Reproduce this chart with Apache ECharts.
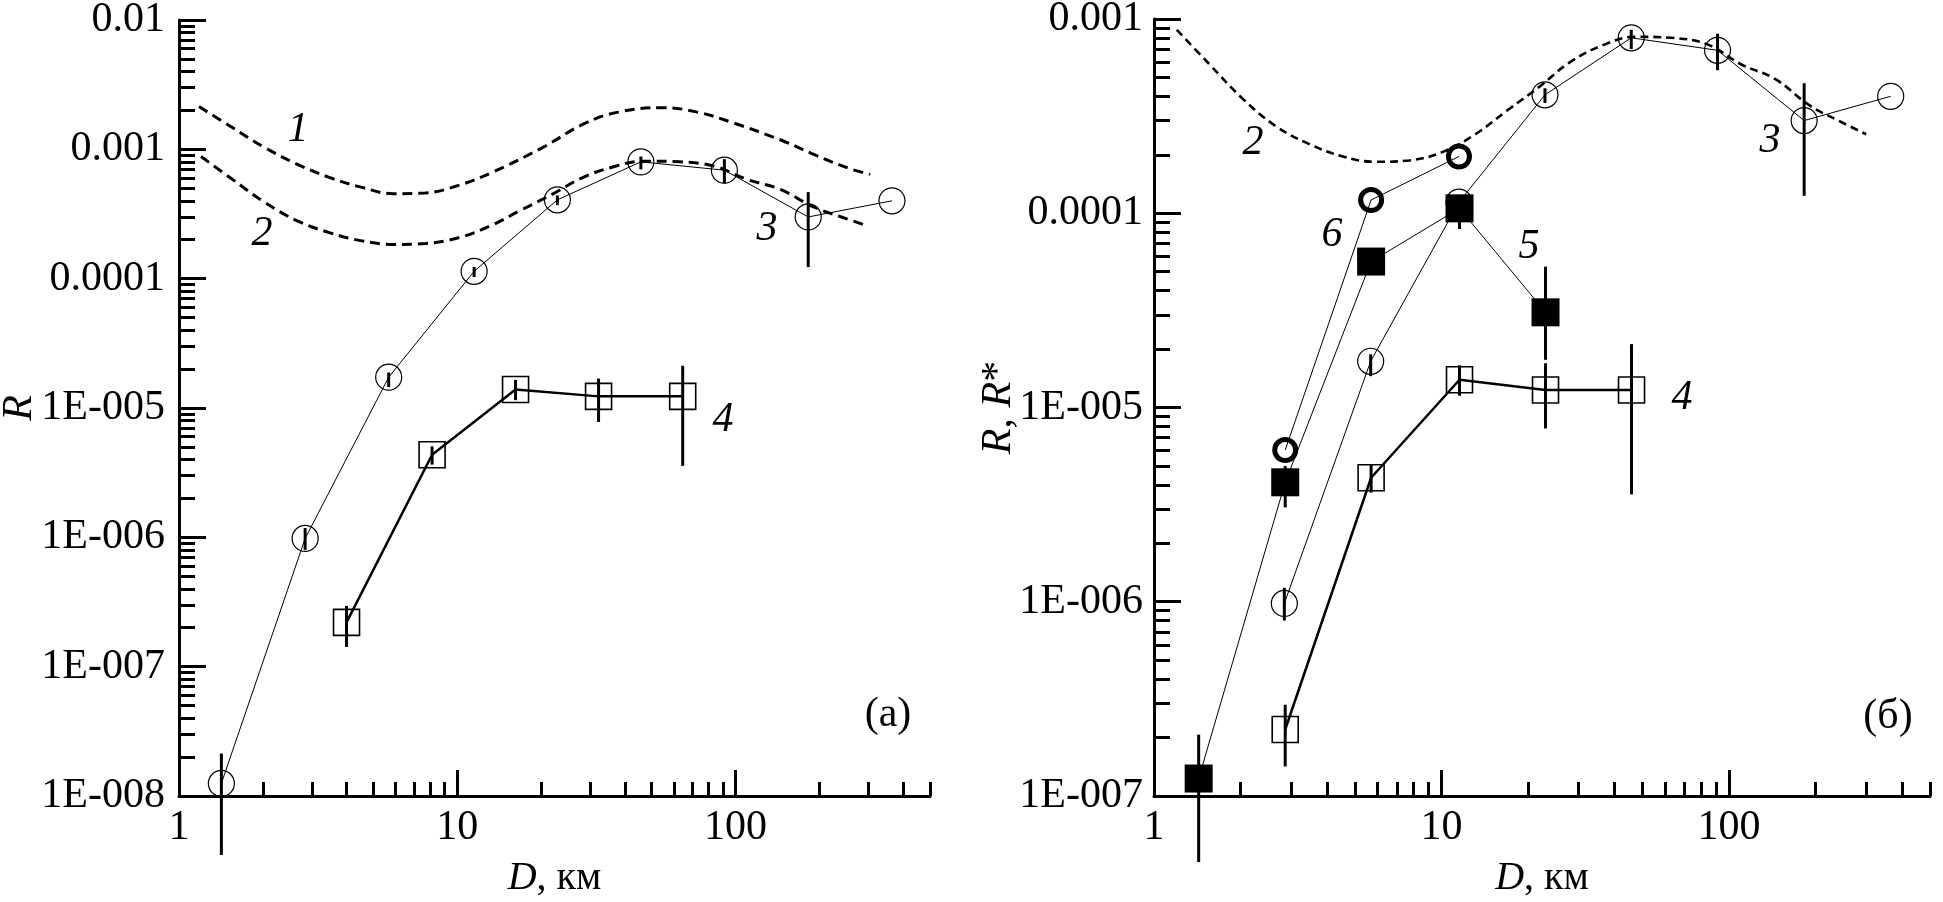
<!DOCTYPE html>
<html><head><meta charset="utf-8">
<script src="https://cdn.jsdelivr.net/npm/echarts@6/dist/echarts.min.js"></script>
<style>html,body{margin:0;padding:0;background:#fff}#c{width:1943px;height:902px}</style>
</head><body><div id="c"></div>
<script>
// ---------- tick values / labels ----------
const xMajor = [1, 10, 100];
const xMajorLabels = ['1', '10', '100'];
const xMinor = [2,3,4,5,6,7,8,9,20,30,40,50,60,70,80,90,200,300,400,500];
const yMajorA = [1e-8, 1e-7, 1e-6, 1e-5, 1e-4, 1e-3, 1e-2];
const yLabelsA = ['1E-008', '1E-007', '1E-006', '1E-005', '0.0001', '0.001', '0.01'];
const yMajorB = [1e-7, 1e-6, 1e-5, 1e-4, 1e-3];
const yLabelsB = ['1E-007', '1E-006', '1E-005', '0.0001', '0.001'];
const minorMult = [2,3,4,5,6,7,8,9];

// ---------- data ----------
// curve 1 (dashed, panel a)
const curve1X = [1.18, 1.55, 2.02, 2.64, 3.45, 4.51, 5.89, 7.69, 10.1, 13.4, 20.4, 28.6, 37.9, 54.8, 72.9, 96.6, 147, 195, 258, 305];
const curve1Y = [2.14e-3, 1.48e-3, 1.04e-3, 7.73e-4, 6.09e-4, 5.10e-4, 4.54e-4, 4.6e-4, 5.26e-4, 6.66e-4, 1.04e-3, 1.58e-3, 1.94e-3, 2.10e-3, 1.94e-3, 1.62e-3, 1.17e-3, 8.97e-4, 7.08e-4, 6.4e-4];
// curve 2 (dashed, both panels)
const curve2X = [1.2, 1.55, 2.03, 2.66, 3.47, 4.54, 5.9, 7.7, 10.1, 13.1, 17, 22, 28, 37, 47, 63, 84, 110, 145, 190, 240, 300];
const curve2Y = [8.8e-4, 5.9e-4, 3.9e-4, 2.8e-4, 2.27e-4, 1.96e-4, 1.84e-4, 1.87e-4, 2.07e-4, 2.55e-4, 3.4e-4, 4.5e-4, 6.0e-4, 7.4e-4, 8.1e-4, 8.0e-4, 7.4e-4, 5.85e-4, 4.9e-4, 3.6e-4, 3.0e-4, 2.55e-4];
// series 3 (open circles)
const s3X  = [1.42, 2.84, 5.67, 11.5, 22.9, 45.7, 91.2, 182.5, 365];
const s3Y  = [1.25e-8, 9.8e-7, 1.73e-5, 1.14e-4, 4.07e-4, 8.0e-4, 6.9e-4, 3.0e-4, 4.0e-4];
const s3Lo = [3.5e-9, 8.0e-7, 1.45e-5, 1.03e-4, 3.7e-4, 7.0e-4, 5.45e-4, 1.23e-4, null];
const s3Hi = [2.13e-8, 1.18e-6, 1.88e-5, 1.23e-4, 4.4e-4, 8.8e-4, 8.4e-4, 4.67e-4, null];
// series 4 (open squares)
const s4XA = [4.0, 8.12, 16.2, 32.2, 64.6];
const s4XB = [2.86, 5.69, 11.55, 23.0, 45.8];
const s4Y  = [2.2e-7, 4.35e-6, 1.39e-5, 1.23e-5, 1.23e-5];
const s4Lo = [1.42e-7, 3.65e-6, 1.15e-5, 7.8e-6, 3.57e-6];
const s4Hi = [2.95e-7, 5.05e-6, 1.65e-5, 1.69e-5, 2.12e-5];
// series 5 (filled squares, panel б)
const s5X  = [1.43, 2.86, 5.69, 11.55, 23.0];
const s5Y  = [1.23e-7, 4.12e-6, 5.64e-5, 1.06e-4, 3.09e-5];
const s5Lo = [4.57e-8, 3.06e-6, null, 8.3e-5, 1.76e-5];
const s5Hi = [2.07e-7, 5.0e-6, null, 1.2e-4, 5.31e-5];
// series 6 (thick rings, panel б)
const s6X = [2.86, 5.69, 11.5];
const s6Y = [6.04e-6, 1.17e-4, 1.96e-4];

// ---------- helpers ----------
const FONT = 'Liberation Serif';
function minorOf(majors) {
  const out = [];
  majors.slice(0, -1).forEach(m => minorMult.forEach(k => out.push(m * k)));
  return out;
}
function pairs(xs, ys) { return xs.map((x, i) => [x, ys[i]]); }
function lbl(majors, labels) {
  return v => { const i = majors.findIndex(m => Math.abs(m - v) / m < 1e-6); return i >= 0 ? labels[i] : ''; };
}
function xAxes(grid, max) {
  return [{
    type: 'log', logBase: 10, gridIndex: grid, min: 1, max: max, position: 'bottom',
    axisLine: { show: true, lineStyle: { color: '#000', width: 3 } },
    axisTick: { show: true, inside: true, length: 26, lineStyle: { color: '#000', width: 3 }, customValues: xMajor },
    axisLabel: { show: true, customValues: xMajor, formatter: lbl(xMajor, xMajorLabels), margin: 11,
      fontFamily: FONT, fontSize: 42, color: '#000', hideOverlap: false },
    minorTick: { show: false }, splitLine: { show: false },
    name: '{i|D}, км', nameLocation: 'middle', nameGap: 62, nameMoveOverlap: false,
    nameTextStyle: { fontFamily: FONT, fontSize: 40, color: '#000',
      rich: { i: { fontFamily: FONT, fontStyle: 'italic', fontSize: 40, color: '#000' } } }
  }, {
    type: 'log', logBase: 10, gridIndex: grid, min: 1, max: max, position: 'bottom',
    axisLine: { show: false },
    axisTick: { show: true, inside: true, length: 14, lineStyle: { color: '#000', width: 3 }, customValues: xMinor },
    axisLabel: { show: false }, splitLine: { show: false }
  }];
}
function yAxes(grid, min, max, majors, labels, name, gap, margin) {
  return [{
    type: 'log', logBase: 10, gridIndex: grid, min: min, max: max, position: 'left',
    axisLine: { show: true, lineStyle: { color: '#000', width: 3 } },
    axisTick: { show: true, inside: true, length: 27, lineStyle: { color: '#000', width: 3 }, customValues: majors },
    axisLabel: { show: true, customValues: majors, formatter: lbl(majors, labels), margin: margin,
      fontFamily: FONT, fontSize: 42, color: '#000', hideOverlap: false },
    splitLine: { show: false },
    name: name, nameLocation: 'middle', nameGap: gap, nameRotate: 90, nameMoveOverlap: false,
    nameTextStyle: { fontFamily: FONT, fontSize: 42, color: '#000',
      rich: { i: { fontFamily: FONT, fontStyle: 'italic', fontSize: 42, color: '#000' } } }
  }, {
    type: 'log', logBase: 10, gridIndex: grid, min: min, max: max, position: 'left',
    axisLine: { show: false },
    axisTick: { show: true, inside: true, length: 16, lineStyle: { color: '#000', width: 3 }, customValues: minorOf(majors) },
    axisLabel: { show: false }, splitLine: { show: false }
  }];
}
function dashed(xi, yi, xs, ys, w, dash) {
  return { type: 'line', xAxisIndex: xi, yAxisIndex: yi, data: pairs(xs, ys), smooth: 0.4,
    showSymbol: false, symbol: 'none', silent: true, z: 3,
    lineStyle: { color: '#000', width: w, type: dash, cap: 'butt' } };
}
function marks(xi, yi, xs, ys, symbol, size, fill, bw, lw) {
  return { type: 'line', xAxisIndex: xi, yAxisIndex: yi, data: pairs(xs, ys), symbol: symbol, symbolSize: size,
    showSymbol: true, showAllSymbol: true, clip: false, z: 4,
    lineStyle: { color: '#000', width: lw },
    itemStyle: { color: fill, borderColor: '#000', borderWidth: bw } };
}
function errs(xi, yi, xs, lo, hi) {
  const d = [];
  xs.forEach((x, i) => { if (lo[i] != null) d.push([x, lo[i], hi[i]]); });
  return { type: 'custom', xAxisIndex: xi, yAxisIndex: yi, clip: false, z: 6, silent: true,
    data: d, encode: { x: 0, y: [1, 2] },
    renderItem: (params, api) => {
      const a = api.coord([api.value(0), api.value(1)]);
      const b = api.coord([api.value(0), api.value(2)]);
      return { type: 'line', shape: { x1: a[0], y1: a[1], x2: b[0], y2: b[1] },
        style: { stroke: '#000', lineWidth: 3 } };
    } };
}
function txt(t, x, y, italic) {
  return { type: 'text', x: x, y: y, z: 100,
    style: { text: t, fill: '#000', align: 'center', verticalAlign: 'middle',
      font: (italic ? 'italic ' : '') + '42px "' + FONT + '"' } };
}

const chart = echarts.init(document.getElementById('c'), null, { renderer: 'canvas' });
chart.setOption({
  animation: false,
  backgroundColor: '#fff',
  grid: [
    { left: 179, top: 20, width: 751, height: 776, outerBoundsMode: 'none', containLabel: false },
    { left: 1154, top: 19, width: 776, height: 777, outerBoundsMode: 'none', containLabel: false }
  ],
  xAxis: [...xAxes(0, 500), ...xAxes(1, 500)],
  yAxis: [
    ...yAxes(0, 1e-8, 1e-2, yMajorA, yLabelsA, '{i|R}', 138, 14),
    ...yAxes(1, 1e-7, 1e-3, yMajorB, yLabelsB, '{i|R}, {i|R}*', 134, 11)
  ],
  series: [
    // panel a
    dashed(0, 0, curve1X, curve1Y, 3, [10, 6]),
    dashed(0, 0, curve2X, curve2Y, 3, [10, 6]),
    marks(0, 0, s3X, s3Y, 'circle', 26, 'rgba(0,0,0,0)', 1.2, 1),
    errs(0, 0, s3X, s3Lo, s3Hi),
    marks(0, 0, s4XA, s4Y, 'rect', 26, 'rgba(0,0,0,0)', 1.6, 2.5),
    errs(0, 0, s4XA, s4Lo, s4Hi),
    // panel б
    dashed(2, 2, curve2X, curve2Y, 2.6, [8, 5]),
    marks(2, 2, s3X.slice(1), s3Y.slice(1), 'circle', 26, 'rgba(0,0,0,0)', 1.2, 1),
    errs(2, 2, s3X.slice(1), s3Lo.slice(1), s3Hi.slice(1)),
    marks(2, 2, s4XB, s4Y, 'rect', 26, 'rgba(0,0,0,0)', 1.6, 2.5),
    errs(2, 2, s4XB, s4Lo, s4Hi),
    marks(2, 2, s5X, s5Y, 'rect', 28, '#000', 0, 1),
    errs(2, 2, s5X, s5Lo, s5Hi),
    marks(2, 2, s6X, s6Y, 'circle', 21, 'rgba(0,0,0,0)', 5, 1)
  ],
  graphic: [
    txt('1', 298, 130, true), txt('2', 262, 234, true), txt('3', 767, 229, true), txt('4', 723, 420, true),
    txt('(a)', 888, 715, false),
    txt('2', 1253, 143, true), txt('6', 1332, 235, true), txt('3', 1770, 141, true),
    txt('5', 1529, 247, true), txt('4', 1682, 398, true), txt('(б)', 1888, 717, false)
  ]
});
</script></body></html>
